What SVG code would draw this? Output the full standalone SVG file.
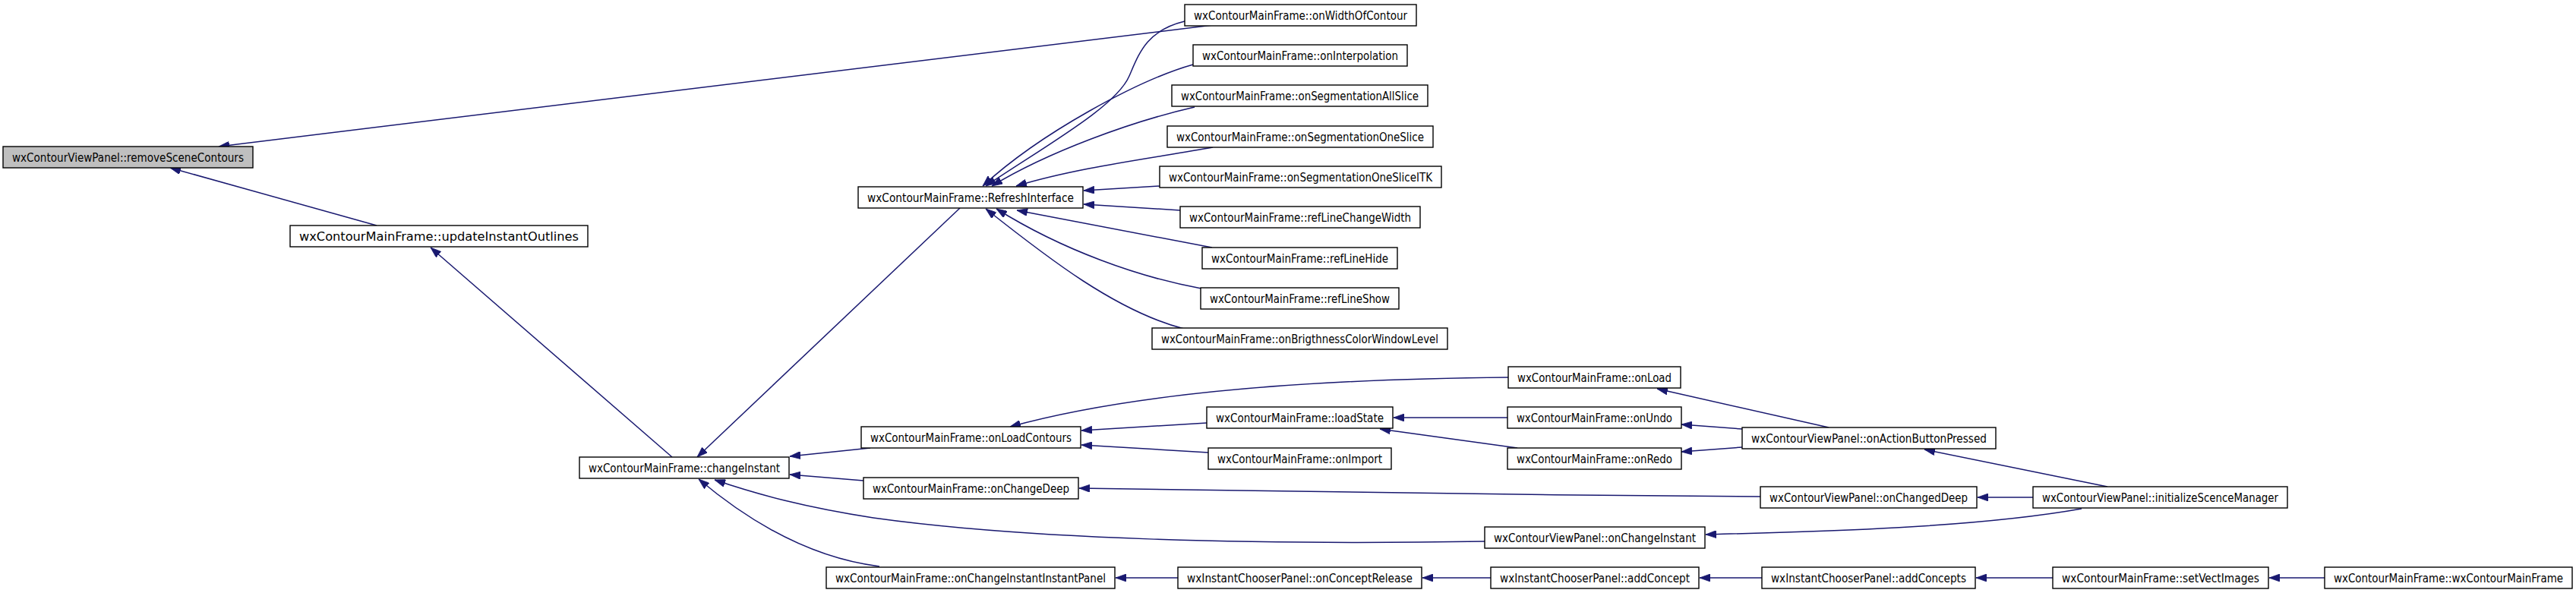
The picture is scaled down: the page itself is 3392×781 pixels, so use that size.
<svg xmlns="http://www.w3.org/2000/svg" width="3392" height="781" viewBox="0 0 3392 781">
<style>
.n rect{fill:#fff;stroke:#000;stroke-width:1.4}
.n text{font-family:"DejaVu Sans Condensed","DejaVu Sans",sans-serif;font-size:16px;text-anchor:middle;fill:#000}
#n0 rect{fill:#bfbfbf}
.e path{fill:none;stroke:#191970;stroke-width:1.5;marker-end:url(#a)}
</style>
<defs>
<marker id="a" markerUnits="userSpaceOnUse" markerWidth="14" markerHeight="10" viewBox="0 0 14 10" refX="14" refY="5" orient="auto">
<path d="M0,0 L14,5 L0,10 z" fill="#191970" stroke="#191970" stroke-width="0.8"/>
</marker>
</defs>
<rect x="0" y="0" width="3392" height="781" fill="#fff"/>
<g class="e" id="edges">
<path d="M1597,33 L288,193"/>
<path d="M496,297 L224,221"/>
<path d="M885,602 L567,326"/>
<path d="M1264,274 L918,602"/>
<path d="M1560,28 C1510,40 1500,70 1487,100 C1470,140 1380,190 1298,245"/>
<path d="M1571,85 C1500,105 1370,175 1294,245"/>
<path d="M1573,141 C1490,160 1380,200 1306,245"/>
<path d="M1597,194 C1520,208 1420,220 1338,245"/>
<path d="M1527,245 L1427,251"/>
<path d="M1554,277 L1427,269"/>
<path d="M1596,326 L1339,277"/>
<path d="M1582,380 C1500,365 1400,330 1312,275"/>
<path d="M1559,433 C1470,410 1380,340 1298,275"/>
<path d="M1146,590 L1040,601"/>
<path d="M1137,633 L1040,625"/>
<path d="M1955,713 C1650,718 1350,710 1150,682 C1060,668 1000,652 941,632"/>
<path d="M1158,746 C1070,735 990,690 920,631"/>
<path d="M1986,497 C1750,499 1500,515 1330,562"/>
<path d="M1589,557 L1424,567"/>
<path d="M1591,596 L1424,586"/>
<path d="M1985,550 L1835,550"/>
<path d="M1998,590 L1817,565"/>
<path d="M2408,563 L2182,512"/>
<path d="M2294,565 L2214,559"/>
<path d="M2294,589 L2214,595"/>
<path d="M2318,654 C2000,652 1600,646 1421,643"/>
<path d="M2775,641 L2534,592"/>
<path d="M2677,655 L2604,655"/>
<path d="M2741,670 C2600,695 2400,700 2246,704"/>
<path d="M1551,761 L1469,761"/>
<path d="M1963,761 L1873,761"/>
<path d="M2320,761 L2238,761"/>
<path d="M2703,761 L2602,761"/>
<path d="M3061,761 L2988,761"/>
</g>
<g class="n" id="n0"><rect x="4" y="193" width="329" height="28"/><text x="168.5" y="212.5" textLength="305" lengthAdjust="spacingAndGlyphs">wxContourViewPanel::removeSceneContours</text></g>
<g class="n" id="n1"><rect x="382" y="297" width="392" height="28"/><text x="578" y="316.5" textLength="368" lengthAdjust="spacingAndGlyphs">wxContourMainFrame::updateInstantOutlines</text></g>
<g class="n" id="n2"><rect x="763" y="602" width="276" height="28"/><text x="901" y="621.5" textLength="252" lengthAdjust="spacingAndGlyphs">wxContourMainFrame::changeInstant</text></g>
<g class="n" id="n3"><rect x="1130" y="246" width="296" height="28"/><text x="1278" y="265.5" textLength="272" lengthAdjust="spacingAndGlyphs">wxContourMainFrame::RefreshInterface</text></g>
<g class="n" id="n4"><rect x="1560" y="6" width="305" height="28"/><text x="1712.5" y="25.5" textLength="281" lengthAdjust="spacingAndGlyphs">wxContourMainFrame::onWidthOfContour</text></g>
<g class="n" id="n5"><rect x="1571" y="59" width="282" height="28"/><text x="1712" y="78.5" textLength="258" lengthAdjust="spacingAndGlyphs">wxContourMainFrame::onInterpolation</text></g>
<g class="n" id="n6"><rect x="1543" y="112" width="337" height="28"/><text x="1711.5" y="131.5" textLength="313" lengthAdjust="spacingAndGlyphs">wxContourMainFrame::onSegmentationAllSlice</text></g>
<g class="n" id="n7"><rect x="1537" y="166" width="350" height="28"/><text x="1712" y="185.5" textLength="326" lengthAdjust="spacingAndGlyphs">wxContourMainFrame::onSegmentationOneSlice</text></g>
<g class="n" id="n8"><rect x="1527" y="219" width="371" height="28"/><text x="1712.5" y="238.5" textLength="347" lengthAdjust="spacingAndGlyphs">wxContourMainFrame::onSegmentationOneSliceITK</text></g>
<g class="n" id="n9"><rect x="1554" y="272" width="316" height="28"/><text x="1712" y="291.5" textLength="292" lengthAdjust="spacingAndGlyphs">wxContourMainFrame::refLineChangeWidth</text></g>
<g class="n" id="n10"><rect x="1583" y="326" width="257" height="28"/><text x="1711.5" y="345.5" textLength="233" lengthAdjust="spacingAndGlyphs">wxContourMainFrame::refLineHide</text></g>
<g class="n" id="n11"><rect x="1581" y="379" width="261" height="28"/><text x="1711.5" y="398.5" textLength="237" lengthAdjust="spacingAndGlyphs">wxContourMainFrame::refLineShow</text></g>
<g class="n" id="n12"><rect x="1517" y="432" width="389" height="28"/><text x="1711.5" y="451.5" textLength="365" lengthAdjust="spacingAndGlyphs">wxContourMainFrame::onBrigthnessColorWindowLevel</text></g>
<g class="n" id="n13"><rect x="1134" y="562" width="289" height="28"/><text x="1278.5" y="581.5" textLength="265" lengthAdjust="spacingAndGlyphs">wxContourMainFrame::onLoadContours</text></g>
<g class="n" id="n14"><rect x="1137" y="629" width="283" height="28"/><text x="1278.5" y="648.5" textLength="259" lengthAdjust="spacingAndGlyphs">wxContourMainFrame::onChangeDeep</text></g>
<g class="n" id="n15"><rect x="1088" y="747" width="380" height="28"/><text x="1278" y="766.5" textLength="356" lengthAdjust="spacingAndGlyphs">wxContourMainFrame::onChangeInstantInstantPanel</text></g>
<g class="n" id="n16"><rect x="1986" y="483" width="227" height="28"/><text x="2099.5" y="502.5" textLength="203" lengthAdjust="spacingAndGlyphs">wxContourMainFrame::onLoad</text></g>
<g class="n" id="n17"><rect x="1589" y="536" width="245" height="28"/><text x="1711.5" y="555.5" textLength="221" lengthAdjust="spacingAndGlyphs">wxContourMainFrame::loadState</text></g>
<g class="n" id="n18"><rect x="1591" y="590" width="241" height="28"/><text x="1711.5" y="609.5" textLength="217" lengthAdjust="spacingAndGlyphs">wxContourMainFrame::onImport</text></g>
<g class="n" id="n19"><rect x="1985" y="536" width="229" height="28"/><text x="2099.5" y="555.5" textLength="205" lengthAdjust="spacingAndGlyphs">wxContourMainFrame::onUndo</text></g>
<g class="n" id="n20"><rect x="1985" y="590" width="229" height="28"/><text x="2099.5" y="609.5" textLength="205" lengthAdjust="spacingAndGlyphs">wxContourMainFrame::onRedo</text></g>
<g class="n" id="n21"><rect x="2294" y="563" width="334" height="28"/><text x="2461" y="582.5" textLength="310" lengthAdjust="spacingAndGlyphs">wxContourViewPanel::onActionButtonPressed</text></g>
<g class="n" id="n22"><rect x="2318" y="641" width="285" height="28"/><text x="2460.5" y="660.5" textLength="261" lengthAdjust="spacingAndGlyphs">wxContourViewPanel::onChangedDeep</text></g>
<g class="n" id="n23"><rect x="2677" y="641" width="335" height="28"/><text x="2844.5" y="660.5" textLength="311" lengthAdjust="spacingAndGlyphs">wxContourViewPanel::initializeScenceManager</text></g>
<g class="n" id="n24"><rect x="1955" y="694" width="290" height="28"/><text x="2100" y="713.5" textLength="266" lengthAdjust="spacingAndGlyphs">wxContourViewPanel::onChangeInstant</text></g>
<g class="n" id="n25"><rect x="1551" y="747" width="321" height="28"/><text x="1711.5" y="766.5" textLength="297" lengthAdjust="spacingAndGlyphs">wxInstantChooserPanel::onConceptRelease</text></g>
<g class="n" id="n26"><rect x="1963" y="747" width="274" height="28"/><text x="2100" y="766.5" textLength="250" lengthAdjust="spacingAndGlyphs">wxInstantChooserPanel::addConcept</text></g>
<g class="n" id="n27"><rect x="2320" y="747" width="281" height="28"/><text x="2460.5" y="766.5" textLength="257" lengthAdjust="spacingAndGlyphs">wxInstantChooserPanel::addConcepts</text></g>
<g class="n" id="n28"><rect x="2703" y="747" width="284" height="28"/><text x="2845" y="766.5" textLength="260" lengthAdjust="spacingAndGlyphs">wxContourMainFrame::setVectImages</text></g>
<g class="n" id="n29"><rect x="3061" y="747" width="326" height="28"/><text x="3224" y="766.5" textLength="302" lengthAdjust="spacingAndGlyphs">wxContourMainFrame::wxContourMainFrame</text></g>
</svg>
